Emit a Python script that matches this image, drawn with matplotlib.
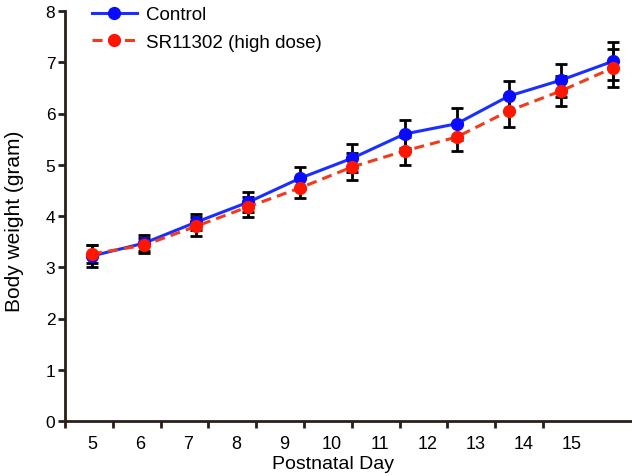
import matplotlib.pyplot as plt
import numpy as np

plt.rcParams["font.family"] = ["Liberation Sans", "DejaVu Sans"]

# Postnatal days and mean body weight (gram) with error bars
days = [5, 6, 7, 8, 9, 10, 11, 12, 13, 14, 15]
control = [3.22, 3.47, 3.88, 4.27, 4.74, 5.13, 5.60, 5.80, 6.34, 6.65, 7.02]
control_err = [0.21, 0.16, 0.16, 0.20, 0.22, 0.27, 0.27, 0.31, 0.29, 0.32, 0.37]
sr11302 = [3.26, 3.43, 3.80, 4.18, 4.55, 4.96, 5.27, 5.54, 6.05, 6.44, 6.89]
sr11302_err = [0.18, 0.15, 0.19, 0.20, 0.20, 0.26, 0.27, 0.27, 0.31, 0.29, 0.37]
y_ticks = [0, 1, 2, 3, 4, 5, 6, 7, 8]

# the original's day labels are squeezed slightly relative to the data points
LABEL_STEP = 0.92
TICK_START = 4.482
TICK_STEP = 0.9175

SPINE = "#2a1e1a"

fig = plt.figure(figsize=(6.32, 4.77), dpi=100)
ax = fig.add_axes([65 / 632, 1 - 422 / 477, 567 / 632, 410 / 477])

x = np.array(days, dtype=float)

ax.errorbar(x, control, yerr=control_err, fmt="none", ecolor="black",
            elinewidth=2.0, capsize=4.5, capthick=2.0, zorder=2)
ax.errorbar(x, sr11302, yerr=sr11302_err, fmt="none", ecolor="black",
            elinewidth=2.0, capsize=4.5, capthick=2.0, zorder=2)
ax.plot(x, control, color="#1a2eff", lw=2.2, marker="o", ms=8.5,
        mfc="#0a0aff", mec="#0a0aff", label="Control", zorder=3)
ax.plot(x, sr11302, color="#f23a1c", lw=2.2, dashes=(3.3, 2.0), marker="o", ms=8.5,
        mfc="#ff1500", mec="#ff1500", label="SR11302 (high dose)", zorder=4)

ax.set_xlim(TICK_START, TICK_START + 567 / 52.1)
ax.set_ylim(0, 8)
ax.set_yticks(y_ticks)
ax.set_yticklabels([str(v) for v in y_ticks], fontsize=12.5)

label_pos = [days[0] + (d - days[0]) * LABEL_STEP for d in days]
ax.set_xticks(label_pos)
ax.set_xticklabels([str(d) for d in days], fontsize=13)
ax.set_xticks([TICK_START + k * TICK_STEP for k in range(len(days))], minor=True)
ax.tick_params(axis="x", which="major", length=0, pad=10)
ax.tick_params(axis="x", which="minor", length=5, width=2, color=SPINE, direction="out")
ax.tick_params(axis="y", length=5, width=2, color=SPINE, direction="out", pad=2)

for side in ("top", "right"):
    ax.spines[side].set_visible(False)
for side in ("left", "bottom"):
    ax.spines[side].set_color(SPINE)
    ax.spines[side].set_linewidth(2)
    ax.spines[side].set_clip_on(False)

ax.set_xlabel("Postnatal Day", fontsize=14)
ax.xaxis.set_label_coords(0.473, -0.082)
ax.set_ylabel("Body weight (gram)", fontsize=15)
ax.yaxis.set_label_coords(-0.072, 0.49)

ax.legend(loc="upper left", bbox_to_anchor=(0.0476, 1.012), frameon=False,
          fontsize=13.5, handlelength=2.4, borderpad=0, borderaxespad=0,
          labelspacing=0.55, handletextpad=0.5)

fig.savefig("out.png", dpi=100)
